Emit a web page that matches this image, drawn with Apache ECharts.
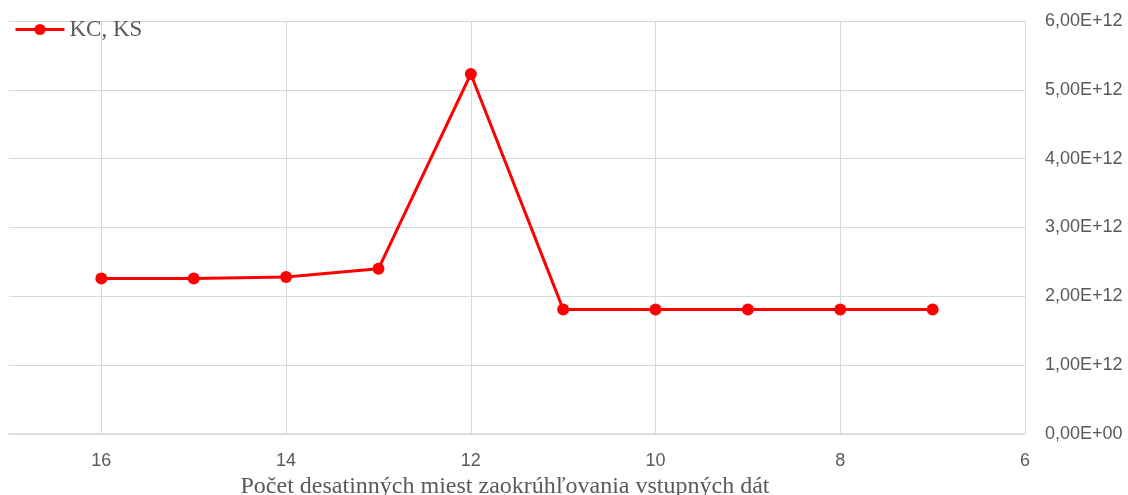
<!DOCTYPE html>
<html><head><meta charset="utf-8">
<script src="https://cdn.jsdelivr.net/npm/echarts@6/dist/echarts.min.js"></script>
<style>html,body{margin:0;padding:0;background:#fff}#c{width:1128px;height:495px}</style>
</head><body><div id="c"></div>
<script>
const xValues = [16, 15, 14, 13, 12, 11, 10, 9, 8, 7];
const yValues = [2.26e12, 2.26e12, 2.28e12, 2.40e12, 5.23e12, 1.81e12, 1.81e12, 1.81e12, 1.81e12, 1.81e12];
const seriesName = 'KC, KS';
const xAxisTitle = 'Počet desatinných miest zaokrúhľovania vstupných dát';

function fmtE(v) {
  let s = v.toExponential(2);
  let [m, e] = s.split('e');
  let sign = e[0] === '-' ? '-' : '+';
  let d = e.replace(/[+-]/, '');
  if (d.length < 2) d = '0' + d;
  return m.replace('.', ',') + 'E' + sign + d;
}

const chart = echarts.init(document.getElementById('c'));
chart.setOption({
  animation: false,
  grid: { left: 9, right: 103, top: 21, bottom: 61, containLabel: false, outerBoundsMode: 'none' },
  legend: {
    left: 9, top: 13, itemWidth: 49, itemHeight: 14, itemGap: 5,
    lineStyle: { width: 3 },
    textStyle: { fontFamily: 'Liberation Serif', fontSize: 23, color: '#595959' },
    data: [seriesName]
  },
  xAxis: {
    type: 'value', min: 6, max: 17, interval: 2, inverse: true,
    name: xAxisTitle, nameLocation: 'middle', nameGap: 36,
    nameTextStyle: { fontFamily: 'Liberation Serif', fontSize: 24, color: '#595959', padding: [0, 24, 0, 0] },
    axisLine: { show: true, lineStyle: { color: '#d9d9d9', width: 1.5 } },
    axisTick: { show: false },
    axisLabel: { color: '#595959', fontSize: 18, fontFamily: 'Liberation Sans', margin: 18, showMaxLabel: false },
    splitLine: { show: true, showMaxLine: false, lineStyle: { color: '#d9d9d9', width: 1 } }
  },
  yAxis: {
    type: 'value', min: 0, max: 6e12, interval: 1e12, position: 'right',
    axisLine: { show: false }, axisTick: { show: false },
    axisLabel: { color: '#595959', fontSize: 18, fontFamily: 'Liberation Sans', margin: 20, formatter: fmtE },
    splitLine: { show: true, lineStyle: { color: '#d9d9d9', width: 1 } }
  },
  series: [{
    name: seriesName, type: 'line',
    data: xValues.map((x, i) => [x, yValues[i]]),
    symbol: 'circle', symbolSize: 12,
    lineStyle: { color: '#ff0000', width: 3 },
    itemStyle: { color: '#ff0000' }
  }]
});
</script></body></html>
